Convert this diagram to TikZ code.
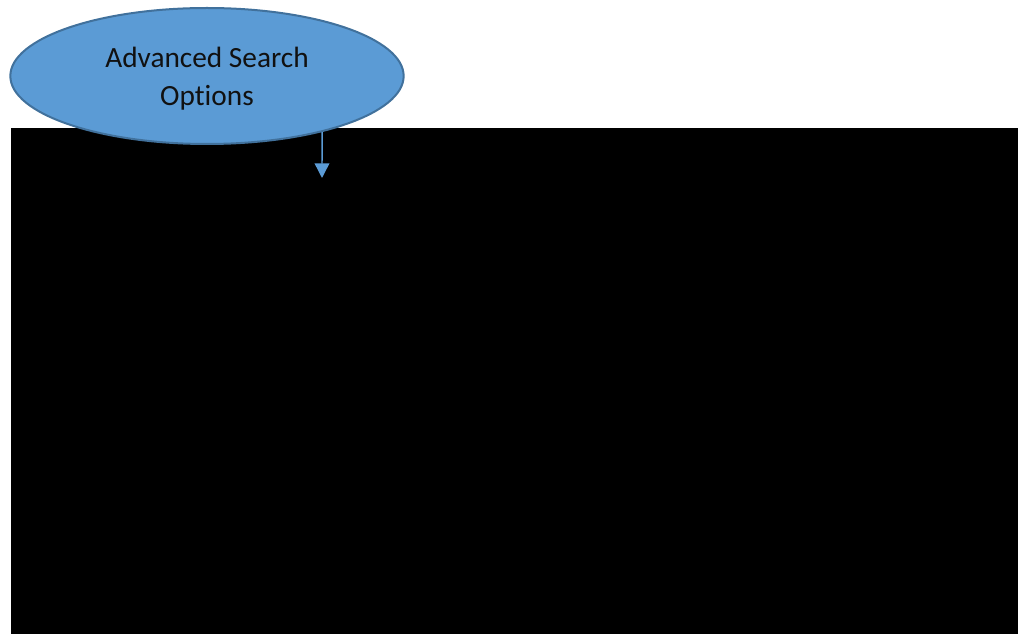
\documentclass[tikz,border=0pt]{standalone}
\usepackage{fontspec}
\setmainfont[Ligatures={NoCommon}]{Carlito}
\usetikzlibrary{shapes.geometric}
\usetikzlibrary{arrows.meta}
\usetikzlibrary{positioning}

\definecolor{optfill}{HTML}{5B9BD5}
\definecolor{optline}{HTML}{41719C}
\definecolor{opttext}{HTML}{111111}

\tikzset{
  optbubble/.style={ellipse,draw=optline,line width=1.5pt,fill=optfill,
    minimum width=295pt,minimum height=102pt,inner sep=0pt,align=center,
    text=opttext,font=\fontsize{22}{28.5}\selectfont},
  optarrow/.style={draw=optfill,line width=1.1pt,-{Triangle[width=11pt,length=11pt]}}
}

\begin{document}
\begin{tikzpicture}[x=0.75pt,y=-0.75pt]
    \useasboundingbox (0,0) rectangle (1018,634);
    \fill[black] (11,128) rectangle (1018,634);
    \node[optbubble] (opts) at (207,76)
      {\raisebox{-2.5pt}[\height][\depth]{\begin{tabular}{@{}c@{}}Advanced Search\\Options\end{tabular}}};
    \coordinate (tip) at (322,178);
    \draw[optarrow] (opts.-26) -- (tip);
  \end{tikzpicture}
\end{document}
